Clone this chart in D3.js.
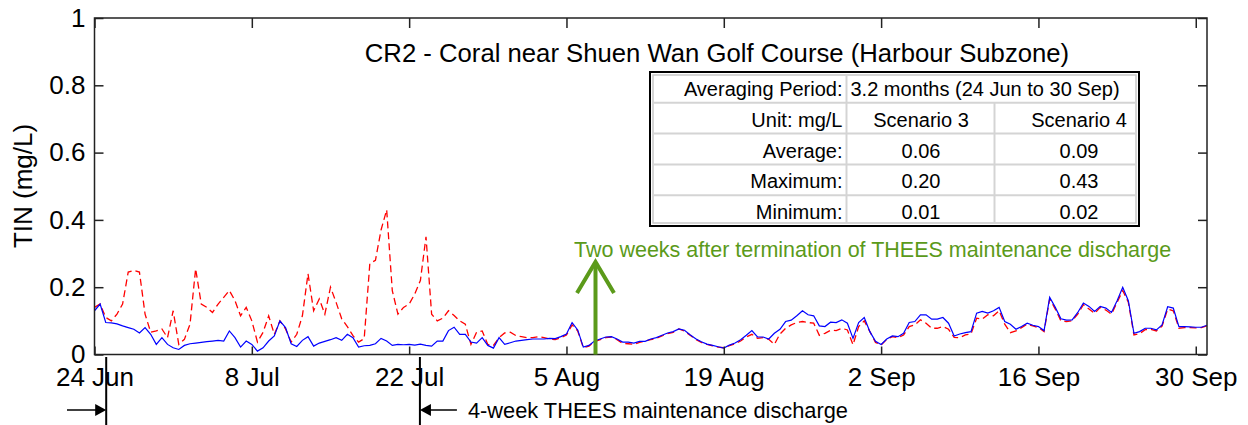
<!DOCTYPE html>
<html>
<head>
<meta charset="utf-8">
<script src="https://cdn.jsdelivr.net/npm/d3@7"></script>
<style>
  body { margin: 0; background: #fff; }
  svg { font-family: Arial, "Liberation Sans", sans-serif; }
</style>
</head>
<body>
<svg id="chart" width="1248" height="425"></svg>
<script>
// ---- data (half-day steps from 24 Jun) ----
var startDate = "24 Jun 2023 00:00";
var endDate = "1 Oct 2023 00:00";
var stepHours = 12;

// Scenario 3 (blue, solid)
var scenario3 = [
  0.13, 0.15, 0.095, 0.094, 0.091, 0.085, 0.08, 0.075, 0.064, 0.08,
  0.06, 0.03, 0.05, 0.03, 0.02, 0.015, 0.027, 0.032, 0.034, 0.036,
  0.038, 0.04, 0.042, 0.04, 0.07, 0.05, 0.022, 0.04, 0.03, 0.01,
  0.02, 0.04, 0.055, 0.10, 0.08, 0.032, 0.024, 0.042, 0.053, 0.025,
  0.034, 0.039, 0.044, 0.05, 0.042, 0.06, 0.05, 0.022, 0.026, 0.027,
  0.032, 0.048, 0.04, 0.027, 0.03, 0.029, 0.03, 0.028, 0.031, 0.027,
  0.025, 0.04, 0.04, 0.071, 0.081, 0.06, 0.06, 0.037, 0.034, 0.05,
  0.027, 0.019, 0.05, 0.03, 0.035, 0.04, 0.042, 0.044, 0.046, 0.046,
  0.046, 0.048, 0.047, 0.053, 0.061, 0.095, 0.073, 0.022, 0.027, 0.04,
  0.046, 0.052, 0.053, 0.046, 0.037, 0.037, 0.034, 0.039, 0.039, 0.046,
  0.05, 0.057, 0.064, 0.068, 0.076, 0.072, 0.059, 0.047, 0.038, 0.031,
  0.027, 0.023, 0.019, 0.028, 0.034, 0.044, 0.057, 0.071, 0.052, 0.052,
  0.046, 0.063, 0.075, 0.098, 0.102, 0.115, 0.13, 0.118, 0.115, 0.085,
  0.083, 0.096, 0.095, 0.103, 0.093, 0.048, 0.095, 0.11, 0.068, 0.039,
  0.03, 0.046, 0.055, 0.053, 0.063, 0.095, 0.098, 0.118, 0.118, 0.105,
  0.105, 0.11, 0.093, 0.055, 0.061, 0.065, 0.068, 0.123, 0.128, 0.123,
  0.13, 0.14, 0.098, 0.09, 0.075, 0.083, 0.093, 0.087, 0.083, 0.071,
  0.17, 0.14, 0.106, 0.102, 0.103, 0.125, 0.153, 0.143, 0.128, 0.143,
  0.138, 0.125, 0.16, 0.2, 0.16, 0.063, 0.068, 0.078, 0.078, 0.073,
  0.088, 0.142, 0.138, 0.083, 0.083, 0.082, 0.081, 0.081, 0.087
];

// Scenario 4 (red, dashed)
var scenario4 = [
  0.14, 0.15, 0.11, 0.10, 0.12, 0.15, 0.245, 0.25, 0.245, 0.12,
  0.066, 0.07, 0.076, 0.05, 0.13, 0.03, 0.045, 0.09, 0.255, 0.15,
  0.14, 0.125, 0.15, 0.17, 0.19, 0.16, 0.115, 0.14, 0.10, 0.037,
  0.066, 0.115, 0.06, 0.10, 0.076, 0.037, 0.06, 0.115, 0.24, 0.13,
  0.165, 0.12, 0.2, 0.155, 0.106, 0.083, 0.056, 0.037, 0.047, 0.27,
  0.28, 0.37, 0.43, 0.19, 0.12, 0.14, 0.15, 0.18, 0.22, 0.35,
  0.12, 0.10, 0.108, 0.13, 0.116, 0.10, 0.09, 0.03, 0.066, 0.07,
  0.03, 0.027, 0.05, 0.064, 0.066, 0.056, 0.053, 0.05, 0.05, 0.053,
  0.05, 0.046, 0.044, 0.05, 0.058, 0.088, 0.07, 0.02, 0.025, 0.038,
  0.044, 0.05, 0.052, 0.044, 0.033, 0.032, 0.03, 0.036, 0.04, 0.044,
  0.048, 0.055, 0.062, 0.066, 0.076, 0.07, 0.057, 0.045, 0.036, 0.03,
  0.026, 0.022, 0.02, 0.026, 0.032, 0.04, 0.052, 0.06, 0.048, 0.05,
  0.045, 0.03, 0.061, 0.078, 0.088, 0.095, 0.098, 0.095, 0.093, 0.057,
  0.063, 0.072, 0.071, 0.078, 0.073, 0.029, 0.083, 0.1, 0.068, 0.036,
  0.028, 0.045, 0.053, 0.05, 0.058, 0.083, 0.088, 0.103, 0.093, 0.078,
  0.078, 0.083, 0.075, 0.051, 0.05, 0.058, 0.061, 0.108, 0.105, 0.118,
  0.115, 0.13, 0.09, 0.065, 0.07, 0.08, 0.09, 0.085, 0.08, 0.068,
  0.165, 0.135, 0.1, 0.098, 0.1, 0.12, 0.148, 0.135, 0.122, 0.14,
  0.132, 0.12, 0.155, 0.19, 0.155, 0.058, 0.062, 0.074, 0.075, 0.07,
  0.084, 0.135, 0.13, 0.078, 0.08, 0.08, 0.079, 0.08, 0.085
];

var tickLabels = ["24 Jun", "8 Jul", "22 Jul", "5 Aug", "19 Aug", "2 Sep", "16 Sep", "30 Sep"];
var yTicks = [0, 0.2, 0.4, 0.6, 0.8, 1];

var dischargeStart = "25 Jun 2023 01:00";
var dischargeEnd = "22 Jul 2023 23:00";
var afterDate = "7 Aug 2023 14:00";

var titleText = "CR2 - Coral near Shuen Wan Golf Course (Harbour Subzone)";
var yLabel = "TIN (mg/L)";
var afterText = "Two weeks after termination of THEES maintenance discharge";
var dischargeText = "4-week THEES maintenance discharge";

// summary table
var tableHeader = ["Averaging Period:", "3.2 months (24 Jun to 30 Sep)"];
var tableCols = ["Unit: mg/L", "Scenario 3", "Scenario 4"];
var tableStats = ["Average:", "Maximum:", "Minimum:"];
var tableS3 = ["0.06", "0.20", "0.01"];
var tableS4 = ["0.09", "0.43", "0.02"];

// ---- chart ----
var svg = d3.select("#chart");
var margin = {top: 18, right: 41, bottom: 70.5, left: 94.5};
var width = 1248 - margin.left - margin.right;
var height = 425 - margin.top - margin.bottom;

var parseTime = d3.utcParse("%d %b %Y %H:%M");
var t0 = parseTime(startDate);

var x = d3.scaleUtc()
    .domain([t0, parseTime(endDate)])
    .range([0, width]);

var y = d3.scaleLinear()
    .domain([0, 1])
    .range([height, 0]);

var g = svg.append("g")
    .attr("transform", "translate(" + margin.left + "," + margin.top + ")");

function timeAt(i) {
    return d3.utcHour.offset(t0, i * stepHours);
}

var tickDates = tickLabels.map(function(s) { return parseTime(s + " 2023 00:00"); });

// clip for the lines
g.append("clipPath").attr("id", "plot-clip")
  .append("rect").attr("width", width).attr("height", height);

var line = d3.line()
    .x(function(d, i) { return x(timeAt(i)); })
    .y(function(d) { return y(d); });

g.append("path")
    .datum(scenario4)
    .attr("clip-path", "url(#plot-clip)")
    .attr("fill", "none")
    .attr("stroke", "#ff0000")
    .attr("stroke-width", 1.3)
    .attr("stroke-dasharray", "7,4")
    .attr("d", line);

g.append("path")
    .datum(scenario3)
    .attr("clip-path", "url(#plot-clip)")
    .attr("fill", "none")
    .attr("stroke", "#0000ff")
    .attr("stroke-width", 1.2)
    .attr("d", line);

// axes (ticks point inward)
var fmt = d3.format("~g");

g.append("g")
    .attr("transform", "translate(0," + height + ")")
    .call(d3.axisBottom(x).tickValues(tickDates).tickSize(-8).tickPadding(13)
        .tickFormat(function(d, i) { return tickLabels[i]; }));

g.append("g")
    .call(d3.axisTop(x).tickValues(tickDates).tickSize(-10).tickFormat(""));

g.append("g")
    .call(d3.axisLeft(y).tickValues(yTicks).tickSize(-9).tickPadding(9).tickFormat(fmt));

g.append("g")
    .attr("transform", "translate(" + width + ",0)")
    .call(d3.axisRight(y).tickValues(yTicks).tickSize(-9).tickFormat(""));

g.selectAll(".domain").remove();
g.selectAll(".tick line").attr("stroke", "#222").attr("stroke-width", 1.5);
g.selectAll(".tick text").attr("font-size", 26).attr("fill", "#000")
    .attr("font-family", "Arial, 'Liberation Sans', sans-serif");

// plot frame
g.append("rect")
    .attr("width", width)
    .attr("height", height)
    .attr("fill", "none")
    .attr("stroke", "#222")
    .attr("stroke-width", 1.5);

// y label
svg.append("text")
    .attr("transform", "translate(23,186) rotate(-90)")
    .attr("text-anchor", "middle")
    .attr("dy", "0.35em")
    .attr("font-size", 26)
    .text(yLabel);

// title
svg.append("text")
    .attr("x", 717)
    .attr("y", 62)
    .attr("text-anchor", "middle")
    .attr("font-size", 25.7)
    .text(titleText);

// ---- summary table ----
var tbl = svg.append("g").attr("class", "stats-table");
var tX = [650, 846.5, 994.5, 1139];
var tTop = 72, rowH = 30.8, nRows = 5;

tbl.append("rect")
    .attr("x", tX[0]).attr("y", tTop)
    .attr("width", tX[3] - tX[0]).attr("height", rowH * nRows)
    .attr("fill", "#fff").attr("stroke", "#000").attr("stroke-width", 2);
tbl.append("rect")
    .attr("x", tX[0] + 3).attr("y", tTop + 3)
    .attr("width", tX[3] - tX[0] - 6).attr("height", rowH * nRows - 6)
    .attr("fill", "none").attr("stroke", "#c8c8c8").attr("stroke-width", 1.5);

// horizontal cell lines
d3.range(1, nRows).forEach(function(r) {
    tbl.append("line")
        .attr("x1", tX[0] + 3).attr("x2", tX[3] - 3)
        .attr("y1", tTop + r * rowH).attr("y2", tTop + r * rowH)
        .attr("stroke", "#d4d4d4").attr("stroke-width", 2);
});
// vertical cell lines
tbl.append("line")
    .attr("x1", tX[1]).attr("x2", tX[1])
    .attr("y1", tTop + 3).attr("y2", tTop + rowH * nRows - 3)
    .attr("stroke", "#d4d4d4").attr("stroke-width", 2);
tbl.append("line")
    .attr("x1", tX[2]).attr("x2", tX[2])
    .attr("y1", tTop + rowH).attr("y2", tTop + rowH * nRows - 3)
    .attr("stroke", "#d4d4d4").attr("stroke-width", 2);

function cellText(txt, xx, row, anchor) {
    tbl.append("text")
        .attr("x", xx)
        .attr("y", tTop + row * rowH + rowH / 2 + 8.5)
        .attr("text-anchor", anchor)
        .attr("font-size", 20)
        .attr("fill", "#000")
        .text(txt);
}

cellText(tableHeader[0], tX[1] - 4, 0, "end");
cellText(tableHeader[1], tX[1] + 4, 0, "start");
cellText(tableCols[0], tX[1] - 4, 1, "end");
cellText(tableCols[1], 921, 1, "middle");
cellText(tableCols[2], 1079, 1, "middle");
tableStats.forEach(function(s, i) {
    cellText(s, tX[1] - 4, i + 2, "end");
    cellText(tableS3[i], 921, i + 2, "middle");
    cellText(tableS4[i], 1079, i + 2, "middle");
});

// ---- green "two weeks after" arrow ----
var green = "#5b9a1a";
var ax = margin.left + x(parseTime(afterDate));
var tipY = 262;
svg.append("line")
    .attr("x1", ax).attr("x2", ax)
    .attr("y1", margin.top + height).attr("y2", tipY)
    .attr("stroke", green).attr("stroke-width", 4);
svg.append("path")
    .attr("d", "M" + (ax - 18.5) + "," + (tipY + 31) + "L" + ax + "," + tipY + "L" + (ax + 18.5) + "," + (tipY + 31))
    .attr("fill", "none").attr("stroke", green).attr("stroke-width", 4);
svg.append("text")
    .attr("x", 574)
    .attr("y", 257)
    .attr("font-size", 21.5)
    .attr("fill", green)
    .text(afterText);

// ---- discharge period markers under the axis ----
var xs = margin.left + x(parseTime(dischargeStart));
var xe = margin.left + x(parseTime(dischargeEnd));
var arrowY = 410;

[xs, xe].forEach(function(xx) {
    svg.append("line")
        .attr("x1", xx).attr("x2", xx)
        .attr("y1", 357).attr("y2", 425)
        .attr("stroke", "#000").attr("stroke-width", 2);
});

// arrow pointing right into the start
svg.append("line")
    .attr("x1", 67).attr("x2", xs - 8)
    .attr("y1", arrowY).attr("y2", arrowY)
    .attr("stroke", "#000").attr("stroke-width", 1.5);
svg.append("path")
    .attr("d", "M" + xs + "," + arrowY + "L" + (xs - 11) + "," + (arrowY - 6) + "L" + (xs - 11) + "," + (arrowY + 6) + "Z")
    .attr("fill", "#000");

// arrow pointing left into the end
svg.append("line")
    .attr("x1", xe + 8).attr("x2", xe + 37)
    .attr("y1", arrowY).attr("y2", arrowY)
    .attr("stroke", "#000").attr("stroke-width", 1.5);
svg.append("path")
    .attr("d", "M" + xe + "," + arrowY + "L" + (xe + 11) + "," + (arrowY - 6) + "L" + (xe + 11) + "," + (arrowY + 6) + "Z")
    .attr("fill", "#000");

svg.append("text")
    .attr("x", xe + 48)
    .attr("y", arrowY + 8)
    .attr("font-size", 21.8)
    .attr("fill", "#000")
    .text(dischargeText);
</script>
</body>
</html>
